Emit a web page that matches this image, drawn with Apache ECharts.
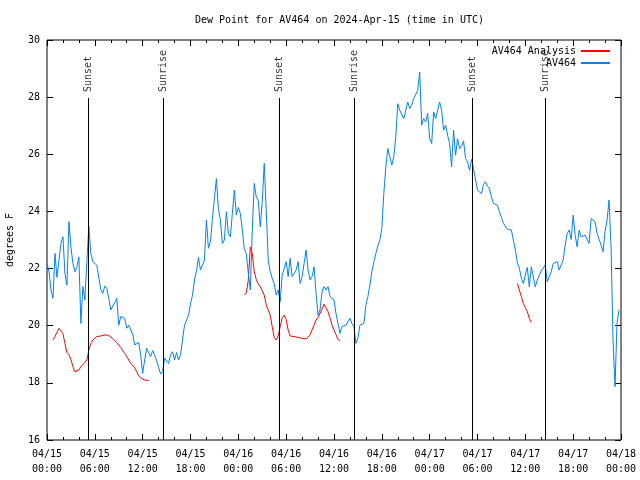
<!DOCTYPE html>
<html><head><meta charset="utf-8">
<script src="https://cdn.jsdelivr.net/npm/echarts@6/dist/echarts.min.js"></script>
<style>html,body{margin:0;padding:0;background:#fff}#c{width:640px;height:480px}</style>
</head><body><div id="c"></div>
<script>
// ---- data (hours since 04/15 00:00 UTC, degrees F) ----
const STEP_HOURS = 0.25;
const blueValues = [
22.18,21.89,21.25,20.96,22.53,21.69,21.69,22.88,23.11,21.83,21.42,23.64,22.76,22.18,21.89,22.06,22.41,20.08,21.37,20.90,
22.24,23.49,22.53,22.24,22.30,22.12,22.09,21.25,21.13,21.39,21.31,20.96,20.55,20.49,20.81,20.96,20.02,20.32,20.37,20.26,
19.91,20.02,19.85,19.71,19.33,19.33,19.41,18.98,18.33,18.80,19.21,19.27,18.92,19.13,18.98,18.77,18.54,18.31,18.39,18.86,
18.82,18.68,18.98,19.09,18.80,19.06,18.80,18.98,19.50,20.02,19.97,20.37,20.76,21.07,21.60,21.92,22.39,21.95,21.95,22.30,
23.70,22.71,22.94,23.75,24.45,25.15,24.10,23.70,22.88,23.00,23.99,23.23,23.11,23.93,24.75,23.87,24.14,23.93,23.37,22.67,
22.53,21.83,21.25,23.35,24.98,24.51,24.39,23.46,24.34,25.68,24.05,22.30,21.89,21.66,21.48,21.07,21.25,20.84,21.77,21.72,
22.24,21.72,22.36,21.72,21.83,21.95,22.24,21.48,21.72,22.18,22.65,21.95,21.60,21.72,22.06,21.13,20.37,20.55,21.19,21.37,
21.25,21.37,21.02,20.96,20.90,20.43,20.08,19.73,19.97,20.02,20.02,20.14,20.26,20.08,19.97,19.38,19.56,20.02,20.02,20.08,
20.72,21.02,21.42,21.89,22.24,22.53,22.79,22.99,23.40,24.63,25.56,26.20,26.20,25.62,25.91,26.61,27.77,27.54,27.54,27.25,
27.25,27.83,27.60,27.72,27.95,27.95,28.24,28.88,27.02,27.25,27.13,27.43,26.55,26.38,27.48,27.25,27.31,27.83,27.54,26.84,
27.02,26.67,26.38,25.56,26.84,25.97,26.55,26.20,26.28,26.47,25.85,25.73,25.44,25.82,25.50,25.44,24.74,24.80,24.62,24.95,
25.04,24.88,24.80,24.51,24.28,24.30,24.22,23.99,23.79,23.58,23.60,23.38,23.35,23.35,23.37,22.65,22.20,22.01,21.66,21.48,
21.77,22.04,21.36,22.06,22.01,21.36,21.60,21.60,21.92,21.89,22.12,21.54,21.71,21.89,22.18,22.18,22.24,21.95,21.95,22.30,
22.82,23.23,23.35,23.02,23.87,23.17,22.76,23.35,23.11,23.05,23.17,23.23,22.88,23.75,23.69,23.64,23.23,23.17,22.82,22.59,
23.29,23.69,24.40,22.76,19.50,17.87,20.08,20.55
];
const analysisStarts = [0.75, 24.75, 59.0];
const analysisSeg1 = [19.50,19.62,19.77,19.91,19.91,19.73,19.38,19.06,18.98,18.82,18.57,18.39,18.33,18.45,18.57,18.63,18.71,18.80,19.15,19.38,
19.50,19.56,19.62,19.62,19.64,19.65,19.68,19.68,19.66,19.59,19.55,19.48,19.41,19.36,19.24,19.12,19.03,18.93,18.80,18.68,
18.64,18.53,18.39,18.25,18.17,18.14,18.10,18.08,18.08];
const analysisSeg2 = [21.07,21.15,21.60,22.76,22.53,21.89,21.62,21.46,21.37,21.31,21.07,20.72,20.55,20.37,19.97,19.59,19.50,19.64,19.97,20.28,
20.37,20.22,19.85,19.64,19.62,19.62,19.61,19.59,19.57,19.56,19.55,19.54,19.52,19.68,19.85,20.02,20.20,20.29,20.43,20.58,
20.75,20.72,20.49,20.28,20.02,19.85,19.69,19.52,19.48];
const analysisSeg3 = [21.48,21.25,21.02,20.77,20.72,20.49,20.26,20.11];
const sunNames = ['Sunset','Sunrise','Sunset','Sunrise','Sunset','Sunrise'];
const sunHours = [5.22, 14.62, 29.18, 38.57, 53.33, 62.52];
const yTicks = [16, 30, 2];
const xTicks = [0, 72, 6];

// ---- build ----
const FONT = 'DejaVu Sans Mono';
const RED = '#ff0000', BLUE = '#0080ff';
const blueData = blueValues.map((v, i) => [i * STEP_HOURS, v]);
const redData = [];
[analysisSeg1, analysisSeg2, analysisSeg3].forEach((seg, s) => {
  if (s > 0) redData.push([analysisStarts[s] - 0.01, '-']);
  seg.forEach((v, k) => redData.push([analysisStarts[s] + k * STEP_HOURS, v]));
});
const pad = n => (n < 10 ? '0' : '') + n;
const xLabel = v => '04/' + (15 + Math.floor(v / 24)) + '\n' + pad(v % 24) + ':00';
const LINE_TOP = 27.97, LABEL_Y = 28.18;

const chart = echarts.init(document.getElementById('c'), null, {renderer: 'canvas'});
const axisCommon = {
  axisLine: {show: false, onZero: false},
  splitLine: {show: false},
  axisTick: {show: true, inside: true, length: 6, lineStyle: {color: '#000'}},
};
const legendCommon = {right: 30, padding: 0, align: 'right', itemWidth: 29, itemHeight: 2, icon: 'rect',
  textStyle: {fontFamily: FONT, fontSize: 10, color: '#000'}, selectedMode: false};
chart.setOption({
  animation: false,
  backgroundColor: '#fff',
  title: {text: 'Dew Point for AV464 on 2024-Apr-15 (time in UTC)', left: 190, top: 10,
    textStyle: {fontFamily: FONT, fontSize: 10, fontWeight: 'normal', color: '#000'}},
  legend: [
    Object.assign({}, legendCommon, {data: ['AV464 Analysis'], top: 46}),
    Object.assign({}, legendCommon, {data: ['AV464'], top: 58})
  ],
  grid: {left: 47, right: 19, top: 40, bottom: 40, outerBoundsMode: 'none', containLabel: false,
    show: true, borderColor: '#000', borderWidth: 1, backgroundColor: 'transparent'},
  xAxis: [
    Object.assign({}, axisCommon, {type: 'value', min: xTicks[0], max: xTicks[1], interval: xTicks[2], position: 'bottom',
      minorTick: {show: true, splitNumber: 3, length: 3, lineStyle: {color: '#000'}},
      axisLabel: {formatter: xLabel, fontFamily: FONT, fontSize: 10, color: '#000', margin: 7, lineHeight: 15,
        showMinLabel: true, showMaxLabel: true, hideOverlap: false}}),
    Object.assign({}, axisCommon, {type: 'value', min: xTicks[0], max: xTicks[1], interval: xTicks[2], position: 'top',
      minorTick: {show: true, splitNumber: 3, length: 3, lineStyle: {color: '#000'}},
      axisLabel: {show: false}})
  ],
  yAxis: [
    Object.assign({}, axisCommon, {type: 'value', min: yTicks[0], max: yTicks[1], interval: yTicks[2], position: 'left',
      name: 'degrees F', nameLocation: 'middle', nameGap: 32, nameRotate: 90,
      nameTextStyle: {fontFamily: FONT, fontSize: 10, color: '#000'},
      axisLabel: {fontFamily: FONT, fontSize: 10, color: '#000', margin: 7}}),
    Object.assign({}, axisCommon, {type: 'value', min: yTicks[0], max: yTicks[1], interval: yTicks[2], position: 'right',
      axisLabel: {show: false}})
  ],
  series: [
    {name: 'AV464 Analysis', type: 'line', data: redData, showSymbol: false, symbol: 'none',
      lineStyle: {color: RED, width: 1}, itemStyle: {color: RED}, z: 2},
    {name: 'AV464', type: 'line', data: blueData, showSymbol: false, symbol: 'none',
      lineStyle: {color: BLUE, width: 1}, itemStyle: {color: BLUE}, z: 3},
    {name: 'sun', type: 'scatter', symbolSize: 0, silent: true, z: 5,
      data: sunHours.map((h, i) => ({value: [h, LABEL_Y], name: sunNames[i]})),
      label: {show: true, formatter: p => p.name, rotate: 90, position: [0, 0], align: 'left', verticalAlign: 'middle',
        fontFamily: FONT, fontSize: 10, color: '#000'},
      markLine: {silent: true, symbol: 'none', animation: false, label: {show: false},
        lineStyle: {color: '#000', width: 1, type: 'solid'},
        data: sunHours.map(h => [{coord: [h, yTicks[0]]}, {coord: [h, LINE_TOP]}])}}
  ]
});
</script></body></html>
